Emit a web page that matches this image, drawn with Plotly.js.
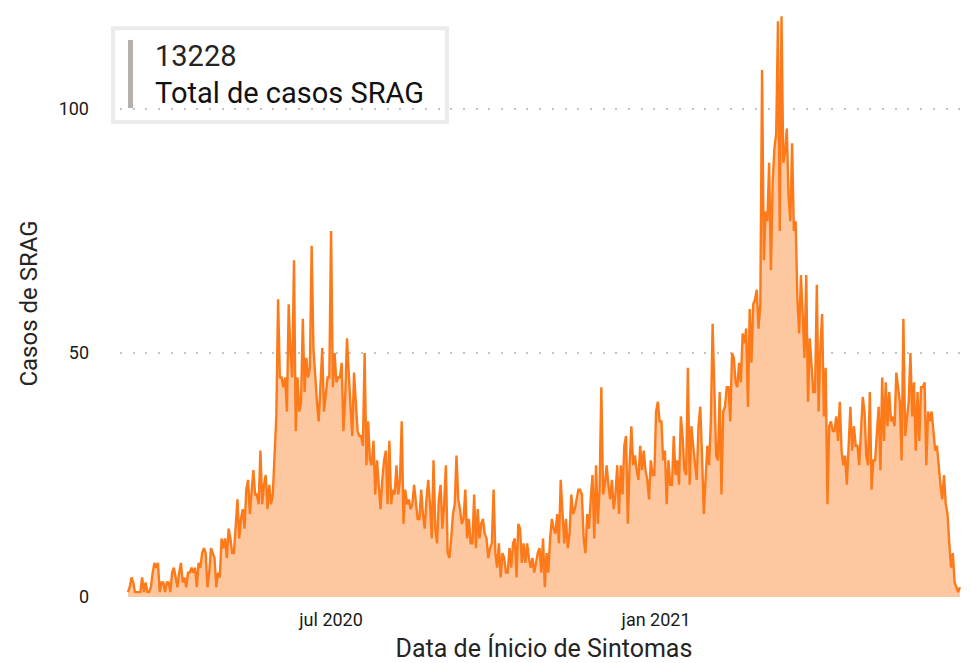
<!DOCTYPE html>
<html>
<head>
<meta charset="utf-8">
<script src="https://cdn.plot.ly/plotly-3.0.1.min.js"></script>
<style>
  html, body { margin: 0; padding: 0; background: #ffffff; }
  #chart { width: 971px; height: 663px; }
</style>
</head>
<body>
<div id="chart"></div>
<script>
// ---- Data (daily SRAG cases by symptom-onset date) ----
const startDate = '2020-03-08';

// 2020-03-08 .. 2020-07-03
const casosInicio = [
  1,2,4,3,1,1,1,1,4,1,
  3,1,1,2,5,7,6,7,1,3,
  3,1,3,3,1,5,6,4,2,5,
  7,3,4,2,5,5,6,5,6,2,
  7,6,9,10,9,2,5,10,9,8,
  2,5,4,12,10,12,8,14,12,9,
  9,14,20,12,16,18,14,22,24,17,
  22,26,21,21,19,30,19,23,25,18,
  23,19,21,30,37,61,45,45,43,45,
  38,60,50,45,69,34,45,38,40,57,
  42,49,45,47,72,51,45,40,36,44,
  51,38,42,45,45,75,43,50
];

// following days .. late Oct 2020
const casosQueda = [
  44,45,45,48,34,41,53,45,39,33,
  46,40,34,33,33,31,50,27,36,28,
  27,32,21,28,23,18,24,28,30,19,
  32,19,22,21,27,21,24,36,15,22,
  19,20,18,19,23,19,16,16,22,17,
  14,20,24,19,12,28,14,11,20,23,
  14,19,27,9,8,12,17,19,29,20,
  18,15,16,22,12,16,11,11,21,10,
  18,12,15,16,13,12,8,10,11,22,
  9,6,11,4,9,8,5,5,10,6,
  11,12,4,15,14,7,11,7,11,8,
  6,8,5,7,9
];

// following days .. late Feb 2021
const casosSubida = [
  10,5,12,2,9,5,12,16,14,13,
  17,11,24,16,11,16,10,13,21,17,
  18,
  20,22,22,21,12,9,17,14,20,25,
  12,27,15,22,43,21,23,27,23,20,
  24,18,21,27,17,27,21,31,33,15,
  27,35,27,29,26,24,31,26,30,26,
  24,
  20,28,25,25,38,40,36,36,28,30,
  19,28,23,23,33,25,28,23,37,33,
  26,25,47,23,35,31,27,24,35,39,
  29,17,24,31,27,36,56,40,29,28,
  42,21,38,39,43,43,36,50,49,44,
  43,48,44,54,52,55,39,59,48,60
];

// following days .. June 2021
const casosPico = [
  61,63,55,60,108,69,79,
  77,89,67,85,92,95,118,75,119,89,
  91,96,82,77,93,75,77,61,54,66,
  58,49,66,40,53,47,42,42,64,38,
  51,58,37,47,19,35,36,34,34,37,
  32,40,30,27,29,23,30,39,30,35,
  31,31,27,34,41,38,29,27,42,22,
  28,28,33,39,26,45,32,44,35,42,
  36,37,35,46,43,40,28,57,33,37,
  40,50,37,44,30,42,32,43,43,44,
  27,38,36,38,34,30,31,26,23,20,
  25,19,17,11,6,9,3,2,1,2
];

const tickDates = ['2020-07-01', '2021-01-01'];
const tickLabels = ['jul 2020', 'jan 2021'];
const totalCasos = '13228';
const totalLabel = 'Total de casos SRAG';
const xTitle = 'Data de Ínicio de Sintomas';
const yTitle = 'Casos de SRAG';

// ---- Build series ----
const casos = [].concat(casosInicio, casosQueda, casosSubida, casosPico);
const datas = [];
{
  const d0 = new Date(startDate + 'T00:00:00Z');
  for (let i = 0; i < casos.length; i++) {
    const d = new Date(d0.getTime() + i * 86400000);
    datas.push(d.toISOString().slice(0, 10));
  }
}

const FONT = 'Roboto, "DejaVu Sans", sans-serif';
const TXT = '#252423';

const trace = {
  type: 'scatter',
  mode: 'lines',
  x: datas,
  y: casos,
  fill: 'tozeroy',
  fillcolor: '#fdc8a0',
  line: { color: '#fd7a1b', width: 2.4 },
  hoverinfo: 'x+y'
};

const layout = {
  width: 971,
  height: 663,
  margin: { l: 120, r: 3, t: 10, b: 66 },
  paper_bgcolor: '#ffffff',
  plot_bgcolor: '#ffffff',
  showlegend: false,
  font: { family: FONT, color: TXT },
  xaxis: {
    type: 'date',
    range: ['2020-03-03 12:00', '2021-06-26 14:00'],
    tickvals: tickDates,
    ticktext: tickLabels,
    tickfont: { size: 18, color: '#1a1a1a', family: FONT },
    showgrid: false,
    zeroline: false,
    showline: false,
    ticks: '',
    ticklabelstandoff: 10,
    title: { text: xTitle, font: { size: 25, color: TXT, family: FONT }, standoff: 10 }
  },
  yaxis: {
    range: [0, 120.3],
    tickvals: [0, 50, 100],
    ticktext: ['0', '50', '100'],
    tickfont: { size: 18, color: '#1a1a1a', family: FONT },
    showgrid: true,
    gridcolor: '#c4c4c4',
    gridwidth: 2,
    griddash: '2px,10.7px',
    zeroline: false,
    showline: false,
    ticks: '',
    ticklabelstandoff: 30,
    title: { text: yTitle, font: { size: 24, color: TXT, family: FONT }, standoff: 14 }
  },
  shapes: [
    {
      type: 'rect', xref: 'paper', yref: 'paper',
      x0: -0.0083, x1: 0.3856, y0: 0.809, y1: 0.969,
      line: { color: '#ebebeb', width: 4 },
      fillcolor: 'rgba(0,0,0,0)', layer: 'above'
    },
    {
      type: 'rect', xref: 'paper', yref: 'paper',
      x0: 0.0094, x1: 0.0153, y0: 0.833, y1: 0.949,
      line: { width: 0 },
      fillcolor: '#b5b0ac', layer: 'above'
    }
  ],
  annotations: [
    {
      xref: 'paper', yref: 'paper', x: 0.039, y: 0.922,
      xanchor: 'left', yanchor: 'middle', showarrow: false,
      text: totalCasos,
      font: { size: 29, color: TXT, family: FONT }
    },
    {
      xref: 'paper', yref: 'paper', x: 0.039, y: 0.858,
      xanchor: 'left', yanchor: 'middle', showarrow: false,
      text: totalLabel,
      font: { size: 29, color: '#111111', family: FONT }
    }
  ]
};

Plotly.newPlot('chart', [trace], layout, { displayModeBar: false, staticPlot: true });
</script>
</body>
</html>
